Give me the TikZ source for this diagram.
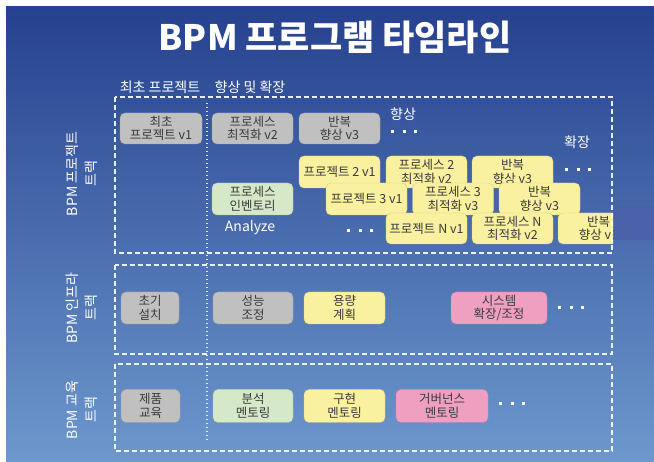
\documentclass[tikz,border=0pt]{standalone}
\usepackage{fontspec}
\setmainfont{Noto Sans CJK KR}
\usetikzlibrary{positioning}
\definecolor{bgtop}{HTML}{26418F}
\definecolor{bgmid}{HTML}{4A72B8}
\definecolor{bgbot}{HTML}{6D98CD}
\definecolor{patch}{HTML}{4962AA}
\definecolor{stagegray}{HTML}{C0C0C0}
\definecolor{stageyellow}{HTML}{F9F0A0}
\definecolor{stagegreen}{HTML}{D5E8C8}
\definecolor{stagepink}{HTML}{EFA0C0}
\definecolor{stagetext}{HTML}{3A3A3A}
\tikzset{
    track line/.style={white,line width=1.5pt,dash pattern=on 5pt off 3pt,opacity=.9},
    phase line/.style={white,line width=1.4pt,dash pattern=on 1.4pt off 2.6pt,opacity=.85},
    stage box/.style={rectangle,rounded corners=5pt,fill=#1,draw=#1!85!black,line width=.4pt,
        text=stagetext,align=center,font=\fontsize{12.5}{13.5}\selectfont,
        minimum width=81pt,minimum height=32pt,inner sep=1pt},
    stage box/.default=stagegray,
    track label/.style={white,rotate=90,align=center,font=\fontsize{14}{19}\selectfont},
    white label/.style={white,font=\fontsize{14}{16}\selectfont},
    more dots/.style={white,inner sep=0pt},
}
\newcommand{\moredots}{\rule{3pt}{3pt}\hspace{8.7pt}\rule{3pt}{3pt}\hspace{8.7pt}\rule{3pt}{3pt}}

\begin{document}
\begin{tikzpicture}[x=1pt,y=-1pt]
    \useasboundingbox (0,0) rectangle (654,462);
    % background
    \fill[white] (0,0) rectangle (654,462);
    \shade[top color=bgtop,middle color=bgmid,bottom color=bgbot] (6,7) rectangle (654,462);
    \fill[patch] (612,205) rectangle (654,240);

    \node[white,font=\fontsize{35}{40}\bfseries\selectfont] (title) at (335,37) {BPM 프로그램 타임라인};
    \node[white,font=\fontsize{14}{16}\selectfont] (head first) at (160,87) {최초 프로젝트};
    \node[white,font=\fontsize{14}{16}\selectfont] (head extend) at (250,87) {향상 및 확장};

    % track labels
    \node[track label] (project track) at (82,174) {BPM 프로젝트\\트랙};
    \node[track label] (infra track) at (82,308) {BPM 인프라\\트랙};
    \node[track label] (edu track) at (82,410) {BPM 교육\\트랙};

    % project track
    \node[stage box,minimum width=82pt,minimum height=31pt] (first v1) at (161,128.5) {최초\\프로젝트 v1};
    \node[stage box,minimum height=31pt] (opt v2) at (252.5,128.5) {프로세스\\최적화 v2};
    \node[stage box,minimum height=31pt] (rep v3) at (339.5,128.5) {반복\\향상 v3};
    \node[stage box=stagegreen] (inventory) at (252.5,199) {프로세스\\인벤토리};
    \node[white label] (analyze) at (250,228) {Analyze};
    \node[white label] (up label) at (403,114) {향상};
    \node[more dots] (up dots) at (404,132) {\moredots};
    \node[white label] (ext label) at (577,142) {확장};
    \node[more dots] (ext dots) at (578,170) {\moredots};

    \node[stage box=stageyellow] (p2 v1) at (339.5,172) {프로젝트 2 v1};
    \node[stage box=stageyellow] (p2 v2) at (426.5,172) {프로세스 2\\최적화 v2};
    \node[stage box=stageyellow] (p2 v3) at (512.5,172) {반복\\향상 v3};
    \node[stage box=stageyellow] (p3 v1) at (366.5,199) {프로젝트 3 v1};
    \node[stage box=stageyellow] (p3 v2) at (453,199) {프로세스 3\\최적화 v3};
    \node[stage box=stageyellow] (p3 v3) at (539.5,199) {반복\\향상 v3};
    \node[more dots] (pn dots) at (360,231) {\moredots};
    \node[stage box=stageyellow,minimum height=31pt] (pn v1) at (426.5,228.5) {프로젝트 N v1};
    \node[stage box=stageyellow,minimum height=31pt] (pn v2) at (512.5,228.5) {프로세스 N\\최적화 v2};
    \begin{scope}
        \clip (0,0) rectangle (613,462);
        \node[stage box=stageyellow,minimum height=31pt] (pn v3) at (598.5,228.5) {반복\\향상 v3};
    \end{scope}

    % infrastructure track
    \node[stage box,minimum width=58pt] (setup) at (150,308) {초기\\설치};
    \node[stage box,minimum width=80pt] (tuning) at (253,308) {성능\\조정};
    \node[stage box=stageyellow] (capacity) at (344.5,308) {용량\\계획};
    \node[stage box=stagepink,minimum width=96pt] (scaling) at (499,308) {시스템\\확장/조정};
    \node[more dots] (infra dots) at (571,308) {\moredots};

    % education track
    \node[stage box,minimum width=59pt,minimum height=33pt] (training) at (150.5,406) {제품\\교육};
    \node[stage box=stagegreen,minimum width=80pt,minimum height=33pt] (analysis) at (253,406) {분석\\멘토링};
    \node[stage box=stageyellow,minimum height=33pt] (build) at (344.5,406) {구현\\멘토링};
    \node[stage box=stagepink,minimum width=92pt,minimum height=33pt] (governance) at (442,406) {거버넌스\\멘토링};
    \node[more dots] (edu dots) at (512,404) {\moredots};

    % track frames
    \draw[track line] (115,97) rectangle (612,253);
    \draw[track line] (115,265) rectangle (612,354);
    \draw[track line] (115,364) rectangle (612,451);
    \draw[phase line] (207,103) -- (207,440);
\end{tikzpicture}
\end{document}
